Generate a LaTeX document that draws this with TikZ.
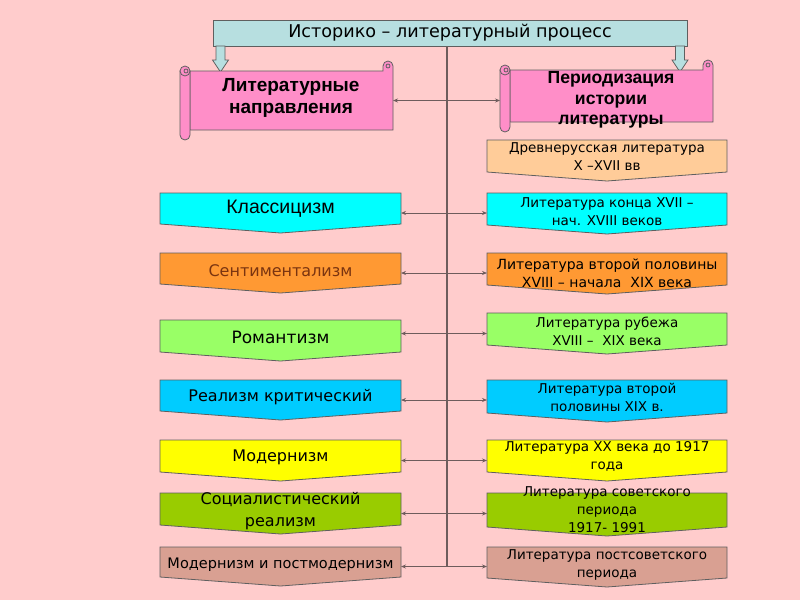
\documentclass[tikz,border=0pt]{standalone}
\usepackage{fontspec}
\setmainfont{DejaVu Sans}
\newfontfamily\arialf{Liberation Sans}
\usetikzlibrary{arrows.meta}
\definecolor{bgc}{HTML}{FFCCCC}
\definecolor{edgec}{HTML}{5F5F5F}
\definecolor{titlec}{HTML}{B7DFE0}
\definecolor{scrollc}{HTML}{FF8EC8}
\definecolor{peachc}{HTML}{FFCC99}
\definecolor{cyanc}{HTML}{00FFFF}
\definecolor{orangec}{HTML}{FF9933}
\definecolor{lgreenc}{HTML}{99FF66}
\definecolor{bluec}{HTML}{00CCFF}
\definecolor{yellowc}{HTML}{FFFF00}
\definecolor{greenc}{HTML}{99CC00}
\definecolor{brownc}{HTML}{D9A092}
\definecolor{linec}{HTML}{6E5C5C}
\definecolor{senttext}{HTML}{7A3410}
\newcommand\pentshape[2]{\filldraw[boxline, fill=#2] (#1.north west) -- (#1.north east) -- ([yshift=9pt]#1.south east) -- (#1.south) -- ([yshift=9pt]#1.south west) -- cycle;}
\newcommand\scrollshape[4]{%
  \filldraw[boxline, fill=scrollc] (#1+10,#2+10) -- (#3-10,#2+10) -- (#3-10,#2+5) arc[start angle=180,end angle=0,radius=5pt] -- (#3,#4-10) -- (#1+10,#4-10) -- cycle;
  \filldraw[boxline, fill=scrollc] (#3-5,#2+5) circle[radius=2pt];
  \filldraw[boxline, fill=scrollc] (#1,#2+10) -- (#1,#4-5) arc[start angle=180,end angle=360,radius=5pt] -- (#1+10,#2+10) -- cycle;
  \filldraw[boxline, fill=scrollc] (#1+5,#2+10) circle[radius=5pt];
  \filldraw[boxline, fill=scrollc] (#1+6,#2+10) circle[radius=2pt];
}
\begin{document}
\begin{tikzpicture}[x=1pt,y=-1pt,
  boxline/.style={draw=edgec, line width=0.8pt},
  lbox/.style={minimum width=241pt, inner sep=0pt, outer sep=0pt, anchor=north},
  rbox/.style={minimum width=240pt, inner sep=0pt, outer sep=0pt, anchor=north},
  holder/.style={inner sep=0pt, outer sep=0pt},
  conn/.style={draw=linec, line width=0.8pt, {Stealth[length=5pt,width=4pt]}-{Stealth[length=5pt,width=4pt]}},
  vline/.style={draw=linec, line width=1.2pt},
  ltext/.style={font=\fontsize{16}{21}\selectfont, align=center, inner sep=0pt},
  rtext/.style={font=\fontsize{13.5}{18}\selectfont, align=center, inner sep=0pt},
  stext/.style={font=\arialf\bfseries\fontsize{19}{22}\selectfont, align=center, inner sep=0pt},
  blockarrow/.style={draw=edgec, line width=0.8pt, fill=titlec}
]
\fill[bgc] (0,0) rectangle (800,600);
\useasboundingbox (0,0) rectangle (800,600);

% title
\node[boxline, fill=titlec, minimum width=474pt, minimum height=26pt, inner sep=0pt, outer sep=0pt,
      font=\fontsize{17.6}{20}\selectfont] (T) at (450,33) {Историко – литературный процесс};
\filldraw[blockarrow] (216,46) -- (225,46) -- (225,60) -- (228.5,60) -- (220.5,72) -- (212.5,60) -- (216,60) -- cycle;
\filldraw[blockarrow] (675.5,46) -- (684.5,46) -- (684.5,60) -- (688,60) -- (680,72) -- (672,60) -- (675.5,60) -- cycle;

% vertical spine
\coordinate (vtop) at (447,46);

% scrolls
\node[holder, minimum width=213pt, minimum height=79pt] (Ls) at (286.5,100.5) {};
\node[holder, minimum width=213pt, minimum height=72pt] (Rs) at (606.5,96) {};
\scrollshape{180}{61}{393}{140}
\scrollshape{500}{60}{713}{132}
\node[stext] (Lst) at (291,98) {Литературные\\направления};
\node[stext, font=\arialf\bfseries\fontsize{17.6}{20.5}\selectfont] (Rst) at (611,100) {Периодизация\\истории\\литературы};

% box holders
\node[lbox, minimum height=40pt] (L2) at (280.5,193) {};
\node[lbox, minimum height=40pt] (L3) at (280.5,253) {};
\node[lbox, minimum height=41pt] (L4) at (280.5,320) {};
\node[lbox, minimum height=40pt] (L5) at (280.5,380) {};
\node[lbox, minimum height=41pt] (L6) at (280.5,440) {};
\node[lbox, minimum height=41pt] (L7) at (280.5,493) {};
\node[lbox, minimum height=39pt] (L8) at (280.5,547) {};
\node[rbox, minimum height=41pt] (R1) at (607,140) {};
\node[rbox, minimum height=41pt] (R2) at (607,193) {};
\node[rbox, minimum height=41pt] (R3) at (607,253) {};
\node[rbox, minimum height=41pt] (R4) at (607,313) {};
\node[rbox, minimum height=42pt] (R5) at (607,380) {};
\node[rbox, minimum height=41pt] (R6) at (607,440) {};
\node[rbox, minimum height=43pt] (R7) at (607,493) {};
\node[rbox, minimum height=40pt] (R8) at (607,547) {};

% connectors
\draw[vline] (vtop) -- (vtop |- L8.east);
\draw[conn] (Ls.east) -- (Ls.east -| Rs.west);
\draw[conn] (L2.east) -- (L2.east -| R2.west);
\draw[conn] (L3.east) -- (L3.east -| R3.west);
\draw[conn] (R4.west -| L4.east) -- (R4.west);
\draw[conn] (L5.east) -- (L5.east -| R5.west);
\draw[conn] (L6.east) -- (L6.east -| R6.west);
\draw[conn] (L7.east) -- (L7.east -| R7.west);
\draw[conn] (L8.east) -- (L8.east -| R8.west);

% shapes
\pentshape{L2}{cyanc}
\pentshape{L3}{orangec}
\pentshape{L4}{lgreenc}
\pentshape{L5}{bluec}
\pentshape{L6}{yellowc}
\pentshape{L7}{greenc}
\pentshape{L8}{brownc}
\pentshape{R1}{peachc}
\pentshape{R2}{cyanc}
\pentshape{R3}{orangec}
\pentshape{R4}{lgreenc}
\pentshape{R5}{bluec}
\pentshape{R6}{yellowc}
\pentshape{R7}{greenc}
\pentshape{R8}{brownc}

% left texts
\node[ltext, font=\arialf\fontsize{19.5}{21}\selectfont] (L2t) at ([yshift=4pt]L2.center) {Классицизм};
\node[ltext, text=senttext] (L3t) at ([yshift=2pt]L3.center) {Сентиментализм};
\node[ltext, font=\fontsize{17}{21}\selectfont] (L4t) at ([yshift=3pt]L4.center) {Романтизм};
\node[ltext] (L5t) at ([yshift=3pt]L5.center) {Реализм критический};
\node[ltext] (L6t) at ([yshift=3pt]L6.center) {Модернизм};
\node[ltext, font=\fontsize{16}{22}\selectfont] (L7t) at ([yshift=2pt]L7.center) {Социалистический\\реализм};
\node[ltext, font=\fontsize{14.5}{18}\selectfont] (L8t) at ([yshift=2pt]L8.center) {Модернизм и постмодернизм};

% right texts
\node[rtext] (R1t) at ([yshift=4pt]R1.center) {Древнерусская литература\\X –XVII вв};
\node[rtext] (R2t) at ([yshift=2pt]R2.center) {Литература конца XVII –\\нач. XVIII веков};
\node[rtext, font=\fontsize{14}{18}\selectfont] (R3t) at (R3.center) {Литература второй половины\\XVIII – начала~ XIX века};
\node[rtext] (R4t) at ([yshift=2pt]R4.center) {Литература рубежа\\XVIII – ~XIX века};
\node[rtext] (R5t) at ([yshift=4pt]R5.center) {Литература второй\\половины XIX в.};
\node[rtext] (R6t) at ([yshift=4pt]R6.center) {Литература XX века до 1917\\года};
\node[rtext] (R7t) at ([yshift=5pt]R7.center) {Литература советского\\периода\\1917- 1991};
\node[rtext] (R8t) at ([yshift=2pt]R8.center) {Литература постсоветского\\периода};
\end{tikzpicture}
\end{document}
